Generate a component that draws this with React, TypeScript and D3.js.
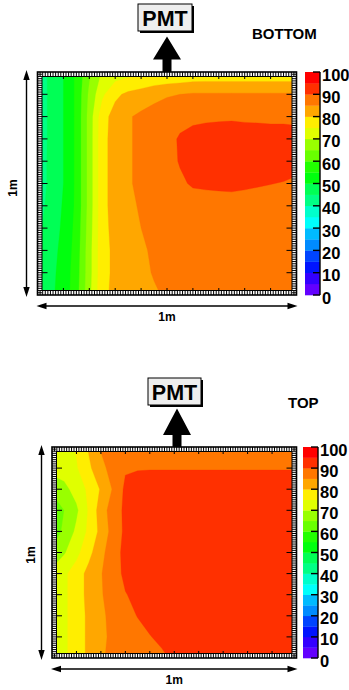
import React from 'react';
import * as d3 from 'd3';

// ---------- data ----------
// grid nodes: 21 columns (0..1 step 0.05), 11 rows (0..1 step 0.1, top to bottom)
const gridColumns = 21;
const gridRows = 11;
const contourLevels = d3.range(0, 100, 5);
const colorbarTicks = [0, 10, 20, 30, 40, 50, 60, 70, 80, 90, 100];

// Panel labelled "BOTTOM"
const bottomGrid: number[][] = [
  [42, 46, 50, 56, 64, 70.5, 72, 73, 74, 74.5, 74.8, 75.2, 75.8, 76, 76, 76, 76, 76, 76, 76, 76],
  [42, 46, 50, 56, 66, 74, 79, 81, 82, 83.5, 84.5, 85, 85.5, 85.5, 85.5, 85.5, 85.5, 85.5, 85.5, 85.5, 85.5],
  [42, 46, 50, 56, 67, 78, 82, 84.5, 86, 87, 88, 88.5, 89, 89.2, 89.4, 89.5, 89.3, 89.2, 89, 89, 89],
  [42, 46, 50, 56, 67, 78.5, 82, 84.5, 86, 87, 88.5, 90.5, 91.5, 92, 92, 92, 92, 92, 92, 92, 91.5],
  [42.5, 46, 50, 56, 67, 78.5, 82, 84.5, 86, 87, 88.5, 90.3, 91.5, 92, 92, 92, 92, 92, 92, 92, 91],
  [42.5, 46, 50, 56, 67, 78.5, 82, 84.5, 86, 87, 88, 89.3, 90.5, 90.8, 91, 91.2, 90.8, 90.4, 90.1, 89.8, 89.5],
  [43, 46.5, 50.5, 56, 67, 78.5, 82, 84, 85.5, 86.5, 87.5, 88, 88, 88, 88, 88, 88, 88, 88, 88, 88],
  [44, 47, 51, 56.5, 67.5, 78.5, 81.5, 83.5, 85, 86, 87, 87, 87, 87, 87, 87, 87, 87, 87, 87, 87],
  [45.5, 48, 51.5, 57, 68, 78.5, 81, 83, 84.5, 85.5, 86.5, 86.5, 86.5, 86.5, 86.5, 86.5, 86.5, 86.5, 86.5, 86.5, 86.5],
  [46.5, 48.5, 52, 57.5, 68, 78.5, 81, 82.5, 84, 85.3, 86, 86, 86, 86, 86, 86, 86, 86, 86, 86, 86],
  [47, 49, 52, 58, 68.5, 79, 81, 82.5, 83.5, 84.5, 85.5, 86, 86, 86, 86, 86, 86, 86, 86, 86, 86],
];

// Panel labelled "TOP"
const topGrid: number[][] = [
  [72, 73.5, 75.5, 80.5, 85.5, 87.5, 88, 88, 88, 88, 88, 88, 88, 88, 88, 88, 88, 88, 88, 88, 88],
  [72, 72.5, 74.5, 79, 83.5, 87, 89.5, 89.7, 89.8, 89.8, 89.8, 89.8, 89.8, 89.8, 89.8, 89.8, 89.8, 89.8, 89.8, 89.8, 89.8],
  [66, 68.5, 72, 76, 80.5, 85.5, 91, 92, 92, 92, 92, 92, 92, 92, 92, 92, 92, 92, 92, 92, 92],
  [61, 65, 69, 75.5, 82.5, 87.5, 91, 92.5, 92.5, 92.5, 92.5, 92.5, 92.5, 92.5, 92.5, 92.5, 92.5, 92.5, 92.5, 92.5, 92.5],
  [62, 66, 71, 76, 81.5, 87, 91, 92.5, 92.5, 92.5, 92.5, 92.5, 92.5, 92.5, 92.5, 92.5, 92.5, 92.5, 92.5, 92.5, 92.5],
  [66, 69.5, 73.5, 78.5, 83.5, 88, 91.3, 92.5, 92.5, 92.5, 92.5, 92.5, 92.5, 92.5, 92.5, 92.5, 92.5, 92.5, 92.5, 92.5, 92.5],
  [71.5, 74, 77.5, 81.5, 84.7, 88, 91, 92.5, 92.5, 92.5, 92.5, 92.5, 92.5, 92.5, 92.5, 92.5, 92.5, 92.5, 92.5, 92.5, 92],
  [72, 74, 77.5, 81.5, 84.5, 87.5, 89.8, 91, 92, 92.5, 92.5, 92.5, 92.5, 92.5, 92.5, 92.5, 92.5, 92.5, 92.5, 92.5, 87],
  [72, 74, 77.5, 81, 84, 86.5, 88, 90.2, 91.5, 92, 92.5, 92.5, 92.5, 92.5, 92.5, 92.5, 92.5, 92.5, 92.5, 92.5, 92],
  [72, 74, 77.5, 81, 84, 86, 87, 88, 89.8, 91, 92, 92.5, 92.5, 92.5, 92.5, 92.5, 92.5, 92.5, 92.5, 92.5, 92.5],
  [72, 74, 77.5, 81, 84.5, 86, 87, 87.5, 88, 89.2, 90.8, 92, 92.5, 92.5, 92.5, 92.5, 92.5, 92.5, 92.5, 92.5, 92.5],
];

// ---------- helpers ----------
const FONT = "'Liberation Sans', Arial, Helvetica, sans-serif";

function levelColor(k: number): string {
  const idx = Math.floor(((k + 0.99) * 50) / 20);
  const hue = 280 - (idx + 1) * 5.6;
  return d3.hsl(hue, 1, 0.5).formatHex();
}

type PanelProps = {
  id: string;
  grid: number[][];
  fx0: number; fx1: number; fy0: number; fy1: number;
  cbx0: number; cbx1: number;
  title: string; titleX: number; titleY: number;
  pmtX: number; pmtY: number; pmtW: number; pmtH: number;
  arrowX: number; arrowTip: number; arrowBase: number;
  vArrowX: number; hArrowY: number;
  vLabelX: number; vLabelY: number; hLabelY: number;
};

function DoubleArrow({ x1, y1, x2, y2 }: { x1: number; y1: number; x2: number; y2: number }) {
  const len = 10, hw = 3.2;
  const dx = x2 - x1, dy = y2 - y1;
  const L = Math.hypot(dx, dy);
  const ux = dx / L, uy = dy / L;
  const px = -uy, py = ux;
  const head = (tx: number, ty: number, dir: number) => {
    const bx = tx - dir * ux * len, by = ty - dir * uy * len;
    return `M${tx},${ty}L${bx + px * hw},${by + py * hw}L${bx - px * hw},${by - py * hw}Z`;
  };
  return (
    <g>
      <line x1={x1 + ux * 4} y1={y1 + uy * 4} x2={x2 - ux * 4} y2={y2 - uy * 4} stroke="#000" strokeWidth={1.4} />
      <path d={head(x1, y1, -1)} fill="#000" />
      <path d={head(x2, y2, 1)} fill="#000" />
    </g>
  );
}

function Panel(p: PanelProps) {
  const W = p.fx1 - p.fx0;
  const H = p.fy1 - p.fy0;
  const flat = p.grid.flat();
  const contours = d3.contours().size([gridColumns, gridRows]).thresholds(contourLevels)(flat);
  const sx = d3.scaleLinear().domain([0.5, gridColumns - 0.5]).range([p.fx0, p.fx1]);
  const sy = d3.scaleLinear().domain([0.5, gridRows - 0.5]).range([p.fy0, p.fy1]);
  const path = d3.geoPath(
    d3.geoTransform({
      point(x: number, y: number) {
        (this as any).stream.point(sx(x), sy(y));
      },
    })
  );

  const cbScale = d3.scaleLinear().domain([0, 100]).range([p.fy1, p.fy0]);
  const bands = d3.range(0, 20);

  const band = 4.5;
  const nMinor = 100;
  const ticks: JSX.Element[] = [];
  for (let i = 1; i < nMinor; i++) {
    const major = i % 10 === 0;
    const x = p.fx0 + (i * W) / nMinor;
    const y = p.fy0 + (i * H) / nMinor;
    const lx = major ? 7 : band;
    const ly = major ? 10 : band;
    ticks.push(<line key={`t${i}`} x1={x} y1={p.fy0} x2={x} y2={p.fy0 + lx} />);
    ticks.push(<line key={`b${i}`} x1={x} y1={p.fy1} x2={x} y2={p.fy1 - lx} />);
    ticks.push(<line key={`l${i}`} x1={p.fx0} y1={y} x2={p.fx0 + ly} y2={y} />);
    ticks.push(<line key={`r${i}`} x1={p.fx1} y1={y} x2={p.fx1 - ly} y2={y} />);
  }

  const midX = p.arrowX;
  return (
    <g>
      <defs>
        <clipPath id={`clip-${p.id}`}>
          <rect x={p.fx0} y={p.fy0} width={W} height={H} />
        </clipPath>
      </defs>
      <g clipPath={`url(#clip-${p.id})`}>
        {contours.map((c, i) => (
          <path key={i} d={path(c as any) || ''} fill={levelColor(Math.round(c.value / 5))} stroke={levelColor(Math.round(c.value / 5))} strokeWidth={0.3} />
        ))}
      </g>
      <g fill="#fff">
        <rect x={p.fx0} y={p.fy0} width={W} height={band} />
        <rect x={p.fx0} y={p.fy1 - band} width={W} height={band} />
        <rect x={p.fx0} y={p.fy0} width={band} height={H} />
        <rect x={p.fx1 - band} y={p.fy0} width={band} height={H} />
      </g>
      <rect x={p.fx0 + band} y={p.fy0 + band} width={W - 2 * band} height={H - 2 * band} fill="none" stroke="#000" strokeWidth={1} />
      <g stroke="#000" strokeWidth={1}>{ticks}</g>
      <rect x={p.fx0} y={p.fy0} width={W} height={H} fill="none" stroke="#000" strokeWidth={1.6} />

      {bands.map((k) => (
        <rect key={k} x={p.cbx0} y={cbScale((k + 1) * 5)} width={p.cbx1 - p.cbx0} height={cbScale(k * 5) - cbScale((k + 1) * 5) + 0.3} fill={levelColor(k)} />
      ))}
      <line x1={p.cbx1} y1={p.fy0} x2={p.cbx1} y2={p.fy1} stroke="#000" strokeWidth={1.4} />
      {colorbarTicks.map((t) => (
        <g key={t}>
          <line x1={p.cbx1 - 7} y1={cbScale(t)} x2={p.cbx1} y2={cbScale(t)} stroke="#000" strokeWidth={1.4} />
          <text x={p.cbx1 + 2} y={cbScale(t) + 2.5} dominantBaseline="central" fontFamily={FONT} fontWeight="bold" fontSize={16.5}>
            {t}
          </text>
        </g>
      ))}

      <text x={p.titleX} y={p.titleY} fontFamily={FONT} fontWeight="bold" fontSize={15}>
        {p.title}
      </text>

      <rect x={p.pmtX + 2} y={p.pmtY + 2} width={p.pmtW} height={p.pmtH} fill="#000" />
      <rect x={p.pmtX} y={p.pmtY} width={p.pmtW} height={p.pmtH} fill="#eeeeee" stroke="#000" strokeWidth={1} />
      <text x={p.pmtX + p.pmtW / 2} y={p.pmtY + p.pmtH / 2 + 1} textAnchor="middle" dominantBaseline="central" fontFamily={FONT} fontWeight="bold" fontSize={21.5}>
        PMT
      </text>

      <path
        d={`M${midX},${p.arrowTip}L${midX + 14},${p.arrowBase}L${midX + 4.5},${p.arrowBase}L${midX + 4.5},${p.fy0}L${midX - 4.5},${p.fy0}L${midX - 4.5},${p.arrowBase}L${midX - 14},${p.arrowBase}Z`}
        fill="#000"
      />

      <DoubleArrow x1={p.vArrowX} y1={p.fy0 - 2} x2={p.vArrowX} y2={p.fy1 + 2} />
      <DoubleArrow x1={p.fx0 - 1} y1={p.hArrowY} x2={p.fx1 + 1} y2={p.hArrowY} />
      <text
        transform={`translate(${p.vLabelX},${p.vLabelY}) rotate(-90)`}
        textAnchor="middle"
        fontFamily={FONT}
        fontWeight="bold"
        fontSize={12}
      >
        1m
      </text>
      <text x={(p.fx0 + p.fx1) / 2} y={p.hLabelY} textAnchor="middle" fontFamily={FONT} fontWeight="bold" fontSize={12}>
        1m
      </text>
    </g>
  );
}

export default function App() {
  return (
    <svg width={349} height={690} style={{ position: 'absolute', left: 0, top: 0, background: '#fff' }}>
      <rect x={0} y={0} width={349} height={690} fill="#fff" />
      <Panel
        id="bottom"
        grid={bottomGrid}
        fx0={37.5} fx1={296.5} fy0={72} fy1={295}
        cbx0={305} cbx1={320}
        title="BOTTOM" titleX={252} titleY={39}
        pmtX={138} pmtY={4} pmtW={54} pmtH={27}
        arrowX={167} arrowTip={36.5} arrowBase={59.5}
        vArrowX={26.5} hArrowY={306}
        vLabelX={17} vLabelY={188} hLabelY={321}
      />
      <Panel
        id="top"
        grid={topGrid}
        fx0={52} fx1={296.5} fy0={447} fy1={658}
        cbx0={303} cbx1={318}
        title="TOP" titleX={288} titleY={408}
        pmtX={148} pmtY={378} pmtW={53} pmtH={27}
        arrowX={177} arrowTip={408.5} arrowBase={435}
        vArrowX={41.5} hArrowY={669}
        vLabelX={35} vLabelY={555} hLabelY={684}
      />
    </svg>
  );
}
